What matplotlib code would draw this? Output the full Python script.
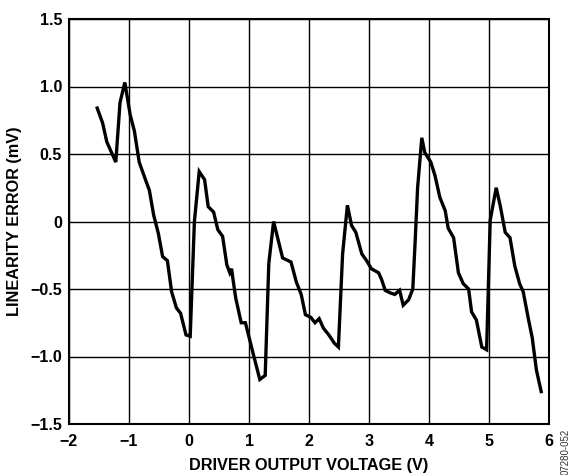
import matplotlib
matplotlib.use("Agg")
import matplotlib.pyplot as plt

# Driver output voltage (V)
voltage = [
    -1.53, -1.44, -1.37, -1.22, -1.15, -1.07, -0.98, -0.91, -0.83, -0.75,
    -0.66, -0.59, -0.51, -0.44, -0.36, -0.29, -0.21, -0.14, -0.05, 0.02,
    0.09, 0.17, 0.26, 0.32, 0.41, 0.48, 0.56, 0.63, 0.68, 0.71,
    0.74, 0.78, 0.87, 0.94, 1.07, 1.18, 1.27, 1.33, 1.41, 1.56,
    1.70, 1.79, 1.87, 1.94, 2.03, 2.10, 2.17, 2.24, 2.33, 2.42,
    2.49, 2.56, 2.64, 2.71, 2.78, 2.88, 2.96, 3.04, 3.16, 3.21,
    3.27, 3.36, 3.43, 3.51, 3.57, 3.66, 3.73, 3.77, 3.81, 3.88,
    3.93, 4.03, 4.10, 4.18, 4.27, 4.32, 4.41, 4.49, 4.57, 4.66,
    4.71, 4.79, 4.88, 4.96, 5.02, 5.12, 5.19, 5.27, 5.35, 5.43,
    5.51, 5.57, 5.66, 5.72, 5.79, 5.87,
]

# Linearity error (mV)
error_mv = [
    0.84, 0.73, 0.59, 0.44, 0.88, 1.03, 0.79, 0.67, 0.44, 0.34,
    0.23, 0.05, -0.09, -0.26, -0.29, -0.52, -0.64, -0.68, -0.84, -0.85,
    0.00, 0.37, 0.31, 0.11, 0.07, -0.06, -0.11, -0.32, -0.38, -0.35,
    -0.45, -0.57, -0.75, -0.75, -0.98, -1.17, -1.14, -0.31, 0.00, -0.27,
    -0.30, -0.45, -0.54, -0.69, -0.71, -0.75, -0.72, -0.79, -0.84, -0.90,
    -0.93, -0.24, 0.12, -0.03, -0.08, -0.24, -0.29, -0.35, -0.38, -0.43,
    -0.51, -0.53, -0.54, -0.51, -0.62, -0.58, -0.50, -0.14, 0.25, 0.62,
    0.51, 0.44, 0.34, 0.18, 0.08, -0.05, -0.12, -0.38, -0.46, -0.50,
    -0.67, -0.73, -0.93, -0.95, 0.01, 0.25, 0.11, -0.08, -0.12, -0.33,
    -0.46, -0.52, -0.73, -0.86, -1.10, -1.26,
]

x_ticks = [-2, -1, 0, 1, 2, 3, 4, 5, 6]
y_ticks = [-1.5, -1.0, -0.5, 0, 0.5, 1.0, 1.5]
y_tick_labels = ["\u22121.5", "\u22121.0", "\u22120.5", "0", "0.5", "1.0", "1.5"]
x_tick_labels = ["\u22122", "\u22121", "0", "1", "2", "3", "4", "5", "6"]

plt.rcParams["font.family"] = ["Liberation Sans", "DejaVu Sans"]
plt.rcParams["font.weight"] = "bold"

fig = plt.figure(figsize=(5.73, 4.75), dpi=100)
ax = fig.add_axes([69 / 573, 1 - 424 / 475, 480 / 573, 405 / 475])

ax.plot(voltage, error_mv, color="black", linewidth=2.4, solid_joinstyle="miter")

ax.set_xlim(-2, 6)
ax.set_ylim(-1.5, 1.5)
ax.set_xticks(x_ticks)
ax.set_xticklabels(x_tick_labels)
ax.set_yticks(y_ticks)
ax.set_yticklabels(y_tick_labels)
ax.grid(True, color="black", linewidth=1.0)
ax.set_axisbelow(True)
ax.tick_params(length=0, labelsize=11.5, pad=7)
ax.tick_params(axis="y", pad=5)
for lab in ax.get_xticklabels() + ax.get_yticklabels():
    lab.set_fontweight("bold")
for sp in ax.spines.values():
    sp.set_linewidth(1.5)
    sp.set_color("black")

ax.set_xlabel("DRIVER OUTPUT VOLTAGE (V)", fontsize=11.7, fontweight="bold", labelpad=7)
ax.set_ylabel("LINEARITY ERROR (mV)", fontsize=11.7, fontweight="bold", labelpad=6)

fig.text(566 / 573, 1 - 452 / 475, "07280-052", rotation=90, fontsize=7,
         fontweight="normal", color="#333333", ha="center", va="center")

fig.savefig("out.png", dpi=100)
